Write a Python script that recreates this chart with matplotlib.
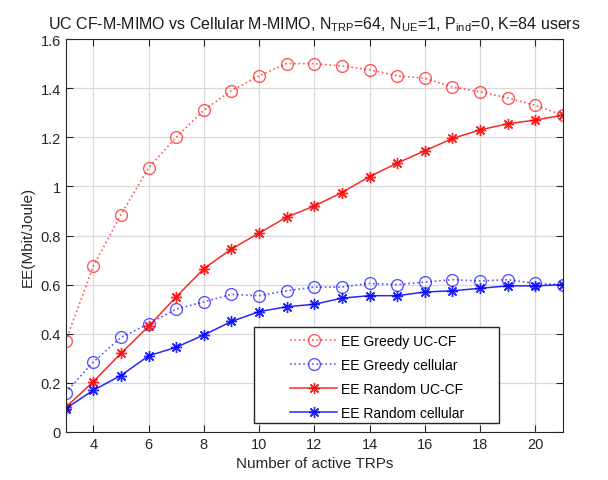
import numpy as np
import matplotlib.pyplot as plt
from matplotlib.patches import Rectangle
from matplotlib.ticker import FuncFormatter

plt.rcParams['font.family'] = ['Liberation Sans', 'DejaVu Sans']
plt.rcParams['mathtext.fontset'] = 'custom'
plt.rcParams['mathtext.rm'] = 'Liberation Sans'

n_trp = np.arange(3, 22)

ee_greedy_uccf = [0.37, 0.675, 0.885, 1.075, 1.20, 1.31, 1.39, 1.45, 1.50, 1.50,
                  1.49, 1.475, 1.45, 1.44, 1.405, 1.385, 1.36, 1.33, 1.29]
ee_greedy_cell = [0.16, 0.285, 0.385, 0.44, 0.50, 0.53, 0.56, 0.555, 0.575, 0.59,
                  0.59, 0.605, 0.60, 0.61, 0.62, 0.615, 0.62, 0.605, 0.60]
ee_random_uccf = [0.10, 0.205, 0.32, 0.43, 0.55, 0.665, 0.745, 0.81, 0.875, 0.92,
                  0.975, 1.04, 1.095, 1.145, 1.195, 1.23, 1.255, 1.27, 1.29]
ee_random_cell = [0.095, 0.17, 0.23, 0.31, 0.345, 0.395, 0.45, 0.49, 0.51, 0.52,
                  0.545, 0.555, 0.555, 0.57, 0.575, 0.585, 0.595, 0.595, 0.60]

fig = plt.figure(figsize=(6.08, 4.81), dpi=100)
ax = fig.add_axes([0.108, 0.0998, 0.818, 0.817])

ax.plot(n_trp, ee_greedy_uccf, ':o', color='red', alpha=0.65, mfc='none',
        ms=8.5, lw=1.2, label='EE Greedy UC-CF')
ax.plot(n_trp, ee_greedy_cell, ':o', color='blue', alpha=0.65, mfc='none',
        ms=8.5, lw=1.2, label='EE Greedy cellular')
ax.plot(n_trp, ee_random_uccf, '-', marker=(8, 2, 0), color='red', alpha=0.85,
        ms=8, lw=1.1, label='EE Random UC-CF')
ax.plot(n_trp, ee_random_cell, '-', marker=(8, 2, 0), color='blue', alpha=0.85,
        ms=8, lw=1.1, label='EE Random cellular')

ax.set_xlim(3, 21)
ax.set_ylim(0, 1.6)
ax.set_xticks(range(4, 21, 2))
ax.set_yticks(np.arange(0, 1.61, 0.2))
ax.yaxis.set_major_formatter(FuncFormatter(lambda v, p: f'{v:g}'))
ax.grid(True, color='#d9d9d9', lw=0.9)
ax.set_axisbelow(True)
ax.tick_params(direction='in', top=True, right=True, labelsize=10.5,
               colors='#262626', length=5)
for s in ax.spines.values():
    s.set_color('#262626')

ax.set_xlabel('Number of active TRPs', fontsize=11, color='#262626')
ax.set_ylabel('EE(Mbit/Joule)', fontsize=11, color='#262626')
ax.set_title(r'UC CF-M-MIMO vs Cellular M-MIMO, N$_{\mathrm{TRP}}$=64, '
             r'N$_{\mathrm{UE}}$=1, P$_{\mathrm{ind}}$=0, K=84 users',
             fontsize=11.5, color='#1a1a1a', pad=8)

# legend box with wide side margins
ax.add_patch(Rectangle((0.379, 0.023), 0.492, 0.244, transform=ax.transAxes,
                       facecolor='white', edgecolor='#262626', lw=1.0, zorder=4))
leg = ax.legend(loc='upper left', bbox_to_anchor=(0.451, 0.250),
                fontsize=10, handlelength=3.4, handletextpad=0.25,
                labelspacing=0.72, borderpad=0, borderaxespad=0,
                frameon=False)
leg.set_zorder(5)

fig.savefig('out.png', dpi=100)
